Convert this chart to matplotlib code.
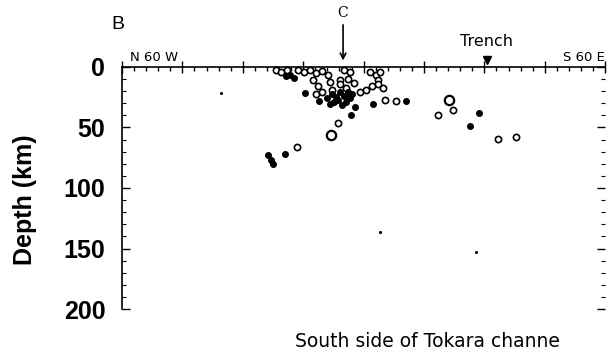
import numpy as np
import matplotlib.pyplot as plt
from matplotlib.ticker import MultipleLocator

plt.rcParams['font.family'] = ['Liberation Sans', 'DejaVu Sans']

# distance along profile (km) and depth (km)
open_x = [127.3, 131.4, 136.4, 145.5, 150.4, 155.4, 160.3, 165.3, 170.2, 157.9,
          162.0, 165.3, 160.3, 171.9, 180.2, 186.8, 191.7, 183.5, 188.4, 204.9,
          209.9, 213.2, 211.6, 196.7, 201.7, 206.6, 211.6, 215.7, 173.6, 185.1,
          180.2, 144.9, 178.8, 217.4, 227.0, 261.4, 273.8, 311.0, 326.2]
open_d = [2.5, 4.1, 2.5, 2.5, 4.1, 2.5, 5.0, 3.3, 6.6, 10.7,
          15.7, 20.7, 22.3, 12.4, 10.7, 9.9, 13.2, 2.5, 4.1, 4.1,
          6.6, 4.1, 10.7, 20.7, 19.0, 15.7, 14.0, 17.4, 19.0, 17.4,
          14.0, 65.9, 46.0, 27.3, 28.1, 39.7, 35.5, 59.8, 57.6]
big_x = [172.7, 271.1]
big_d = [56.2, 27.3]
fill_x = [120.9, 123.7, 125.0, 134.7, 151.2, 163.1, 192.6, 207.7, 295.3, 288.2,
          235.3, 189.8, 138.8, 142.1, 135.5,
          173.6, 176.9, 180.2, 178.5, 183.5, 185.1, 175.2, 181.8, 188.4, 169.4,
          171.9, 186.8, 190.1]
fill_d = [72.7, 76.9, 80.2, 72.1, 21.7, 27.9, 32.8, 30.6, 38.3, 48.8,
          28.1, 39.7, 6.6, 9.1, 7.4,
          22.3, 24.8, 20.7, 27.3, 24.0, 28.9, 28.9, 31.4, 25.6, 25.6,
          30.6, 20.7, 22.3]
speck_x = [81.8, 213.2, 293.1]
speck_d = [21.5, 136.4, 153.0]
trench_x = 302.0
section_c_x = 183.0

fig = plt.figure(figsize=(6.07, 3.54), dpi=100)
ax = fig.add_axes([0.201, 0.127, 0.796, 0.684])

ax.scatter(open_x, open_d, s=20, facecolors='white', edgecolors='black', linewidths=1.2, clip_on=False, zorder=3)
ax.scatter(big_x, big_d, s=45, facecolors='white', edgecolors='black', linewidths=1.6, clip_on=False, zorder=3)
ax.scatter(fill_x, fill_d, s=16, color='black', clip_on=False, zorder=4)
ax.scatter(speck_x, speck_d, s=1.5, color='black', zorder=2)

ax.set_xlim(0, 400)
ax.set_ylim(200, 0)

ax.spines['bottom'].set_visible(False)
ax.spines['right'].set_visible(False)
ax.spines['top'].set_linewidth(1.2)
ax.spines['left'].set_linewidth(1.2)

ax.xaxis.set_ticks_position('top')
ax.xaxis.set_major_locator(MultipleLocator(50))
ax.xaxis.set_minor_locator(MultipleLocator(10))
ax.tick_params(axis='x', which='major', direction='inout', length=8, width=1, labeltop=False, labelbottom=False)
ax.tick_params(axis='x', which='minor', direction='in', length=3, width=1)

ax.yaxis.set_ticks_position('both')
ax.yaxis.set_major_locator(MultipleLocator(50))
ax.yaxis.set_minor_locator(MultipleLocator(10))
ax.tick_params(axis='y', which='major', direction='in', length=6, width=1, labelsize=18, pad=12)
ax.tick_params(axis='y', which='minor', direction='in', length=3, width=0.8)
for t in ax.get_yticklabels():
    t.set_fontweight('bold')

ax.set_ylabel('Depth (km)', fontsize=18, fontweight='bold')
ax.yaxis.set_label_coords(-0.175, 0.45)

ax.text(7, -2.5, 'N 60 W', fontsize=9.5, ha='left', va='bottom', family='DejaVu Sans')
ax.text(400, -2.5, 'S 60 E', fontsize=9.5, ha='right', va='bottom', family='DejaVu Sans', clip_on=False)
ax.plot([trench_x], [-5.5], marker='v', color='black', markersize=6, clip_on=False)
ax.text(trench_x, -15, 'Trench', fontsize=11.5, ha='center', va='bottom', family='DejaVu Sans')
ax.annotate('', xy=(section_c_x, -3), xytext=(section_c_x, -37),
            arrowprops=dict(arrowstyle='->', color='black', lw=1.2), annotation_clip=False)
ax.text(section_c_x, -39, 'C', fontsize=10, ha='center', va='bottom', family='serif')

fig.text(0.184, 0.93, 'B', fontsize=14, ha='left', va='center')
fig.text(0.486, 0.035, 'South side of Tokara channe', fontsize=13.5, ha='left', va='center', family='DejaVu Sans')

fig.savefig('out.png', dpi=100)
